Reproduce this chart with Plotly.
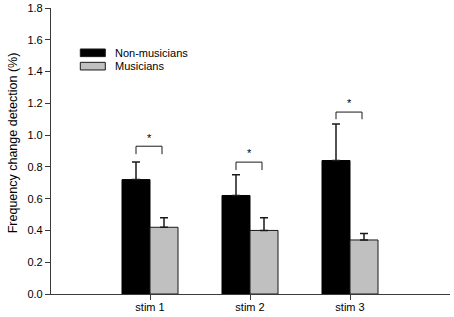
import plotly.graph_objects as go

categories = ["stim 1", "stim 2", "stim 3"]
non_musicians = [0.72, 0.62, 0.84]
non_musicians_err = [0.11, 0.13, 0.23]
musicians = [0.42, 0.40, 0.34]
musicians_err = [0.06, 0.08, 0.04]
# significance brackets: top y and leg y for each category
bracket_top = [0.93, 0.83, 1.145]
bracket_leg = [0.88, 0.78, 1.10]
star_y = [0.98, 0.885, 1.20]
series_names = ["Non-musicians", "Musicians"]
yticks = [0.0, 0.2, 0.4, 0.6, 0.8, 1.0, 1.2, 1.4, 1.6, 1.8]
y_title = "Frequency change detection (%)"

FONT = "Liberation Sans, Arial, sans-serif"
AXIS = "#3a3a3a"
xs = list(range(len(categories)))

fig = go.Figure()
fig.add_trace(go.Bar(
    x=xs, y=non_musicians, name=series_names[0],
    marker=dict(color="#000000", line=dict(color="#000000", width=1)),
    error_y=dict(type="data", array=non_musicians_err, arrayminus=[0]*3, symmetric=False,
                 color="#1a1a1a", thickness=1.5, width=4),
    showlegend=False,
))
fig.add_trace(go.Bar(
    x=xs, y=musicians, name=series_names[1],
    marker=dict(color="#c0c0c0", line=dict(color="#1a1a1a", width=1)),
    error_y=dict(type="data", array=musicians_err, arrayminus=[0]*3, symmetric=False,
                 color="#1a1a1a", thickness=1.5, width=4),
    showlegend=False,
))

# significance brackets
for i in xs:
    left = i - 0.14
    right = i + 0.12
    fig.add_trace(go.Scatter(
        x=[left, left, right, right],
        y=[bracket_leg[i], bracket_top[i], bracket_top[i], bracket_leg[i]],
        mode="lines", line=dict(color="#1a1a1a", width=1), showlegend=False, hoverinfo="skip",
    ))
    fig.add_annotation(x=i - 0.01, y=star_y[i], text="*", showarrow=False,
                       font=dict(family=FONT, size=11, color="#000000"))

# custom legend
leg_colors = ["#000000", "#c0c0c0"]
leg_y = [(1.494, 1.542), (1.41, 1.458)]
for name, col, (y0, y1) in zip(series_names, leg_colors, leg_y):
    fig.add_shape(type="rect", x0=-0.697, x1=-0.447, y0=y0, y1=y1,
                  fillcolor=col, line=dict(color="#1a1a1a", width=1), layer="above")
    fig.add_annotation(x=-0.37, y=(y0 + y1) / 2, text=name, showarrow=False, xanchor="left",
                       font=dict(family=FONT, size=11, color="#000000"))

# y-axis title as a rotated annotation
fig.add_annotation(xref="paper", yref="paper", x=-0.093, y=0.53, text=y_title,
                   textangle=-90, showarrow=False, xanchor="center", yanchor="middle",
                   font=dict(family=FONT, size=12.5, color="#000000"))

fig.update_layout(
    width=454, height=317,
    margin=dict(l=51, r=4, t=8, b=23, autoexpand=False),
    paper_bgcolor="white", plot_bgcolor="white",
    barmode="group", bargap=0.44, bargroupgap=0,
    font=dict(family=FONT, size=11, color="#000000"),
    xaxis=dict(range=[-0.99, 3.0], tickvals=xs, ticktext=categories,
               automargin=False,
               showline=True, linecolor=AXIS, linewidth=1.2,
               ticks="outside", ticklen=5, tickcolor=AXIS,
               ticklabelstandoff=-2,
               showgrid=False, zeroline=False,
               tickfont=dict(family=FONT, size=11, color="#000000")),
    yaxis=dict(range=[0, 1.8], tickvals=yticks, ticktext=[f"{v:.1f}" for v in yticks],
               automargin=False,
               showline=True, linecolor=AXIS, linewidth=1.2,
               ticks="outside", ticklen=5, tickcolor=AXIS,
               showgrid=False, zeroline=False,
               tickfont=dict(family=FONT, size=11, color="#000000")),
)

fig.write_html("out.html", config={"displayModeBar": False},
               post_script="document.body.style.margin='0';document.body.style.padding='0';")
